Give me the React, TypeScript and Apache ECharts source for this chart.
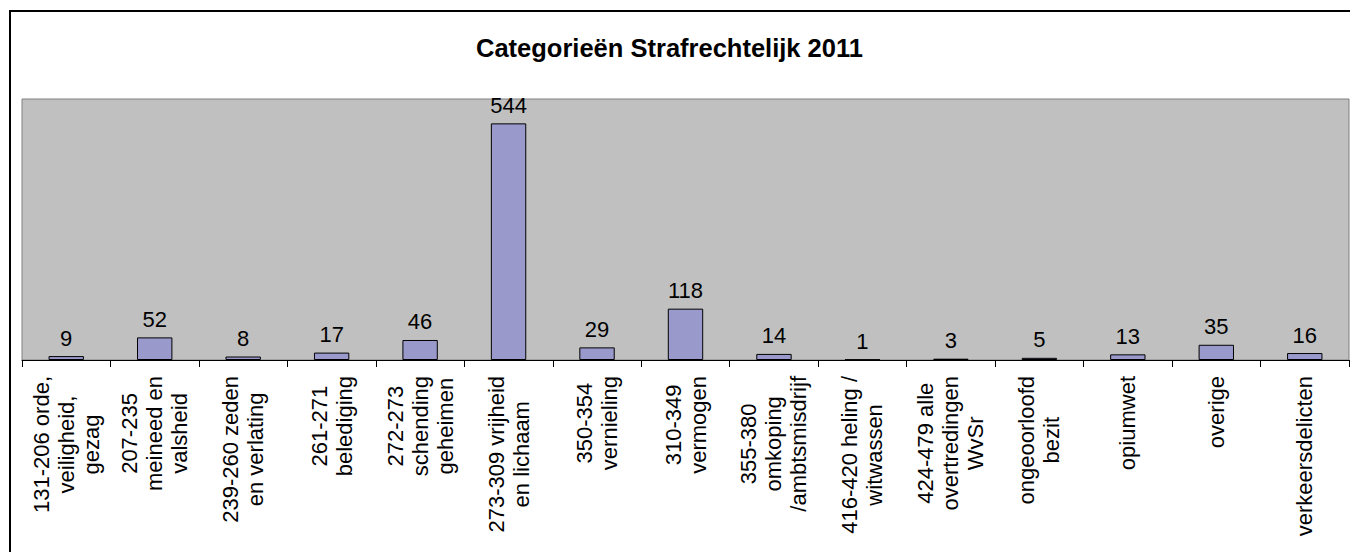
import React, { useEffect, useRef } from "react";
import * as echarts from "echarts";

const title = "Categorieën Strafrechtelijk 2011";
const categories = [
  "131-206 orde,\nveiligheid,\ngezag",
  "207-235\nmeineed en\nvalsheid",
  "239-260 zeden\nen verlating",
  "261-271\nbelediging",
  "272-273\nschending\ngeheimen",
  "273-309 vrijheid\nen lichaam",
  "350-354\nvernieling",
  "310-349\nvermogen",
  "355-380\nomkoping\n/ambtsmisdrijf",
  "416-420 heling /\nwitwassen",
  "424-479 alle\novertredingen\nWvSr",
  "ongeoorloofd\nbezit",
  "opiumwet",
  "overige",
  "verkeersdelicten",
];
const values = [9, 52, 8, 17, 46, 544, 29, 118, 14, 1, 3, 5, 13, 35, 16];
const yMax = 600;

const FONT = "'Liberation Sans', Arial, sans-serif";

export default function App() {
  const ref = useRef<HTMLDivElement>(null);
  useEffect(() => {
    if (!ref.current) return;
    const chart = echarts.init(ref.current, undefined, { renderer: "svg" });
    chart.setOption({
      animation: false,
      backgroundColor: "#ffffff",
      title: {
        text: title,
        left: 471,
        top: 30,
        textStyle: { fontFamily: FONT, fontSize: 25.5, fontWeight: "bold", color: "#000" },
      },
      graphic: [
        {
          type: "rect",
          shape: { x: 10, y: 11, width: 1400, height: 600 },
          style: { fill: "none", stroke: "#000", lineWidth: 2 },
          z: 100,
        },
      ],
      grid: {
        left: 22,
        right: 1,
        top: 99,
        bottom: 192,
        show: true,
        backgroundColor: "#C0C0C0",
        borderColor: "#808080",
        borderWidth: 1,
      },
      xAxis: {
        type: "category",
        data: categories,
        boundaryGap: true,
        axisLine: { show: true, lineStyle: { color: "#000", width: 1 } },
        axisTick: { show: true, length: 7, interval: 0, lineStyle: { color: "#000" } },
        axisLabel: {
          interval: 0,
          rotate: 90,
          margin: 16,
          fontFamily: FONT,
          fontSize: 22,
          color: "#000",
          formatter: (v: string) =>
            v
              .split("\n")
              .map((l) => "{c|" + l + "}")
              .join("\n"),
          rich: {
            c: { align: "center", fontFamily: FONT, fontSize: 22, lineHeight: 25, color: "#000" },
          },
        },
      },
      yAxis: {
        type: "value",
        min: 0,
        max: yMax,
        show: false,
        splitLine: { show: false },
      },
      series: [
        {
          type: "bar",
          data: values,
          barWidth: "40%",
          itemStyle: { color: "#9999CC", borderColor: "#000", borderWidth: 1 },
          label: {
            show: true,
            position: "top",
            distance: 7,
            fontFamily: FONT,
            fontSize: 22,
            color: "#000",
          },
        },
      ],
    });
    return () => chart.dispose();
  }, []);
  return (
    <div
      ref={ref}
      style={{ position: "fixed", left: 0, top: 0, width: 1350, height: 552 }}
    />
  );
}
